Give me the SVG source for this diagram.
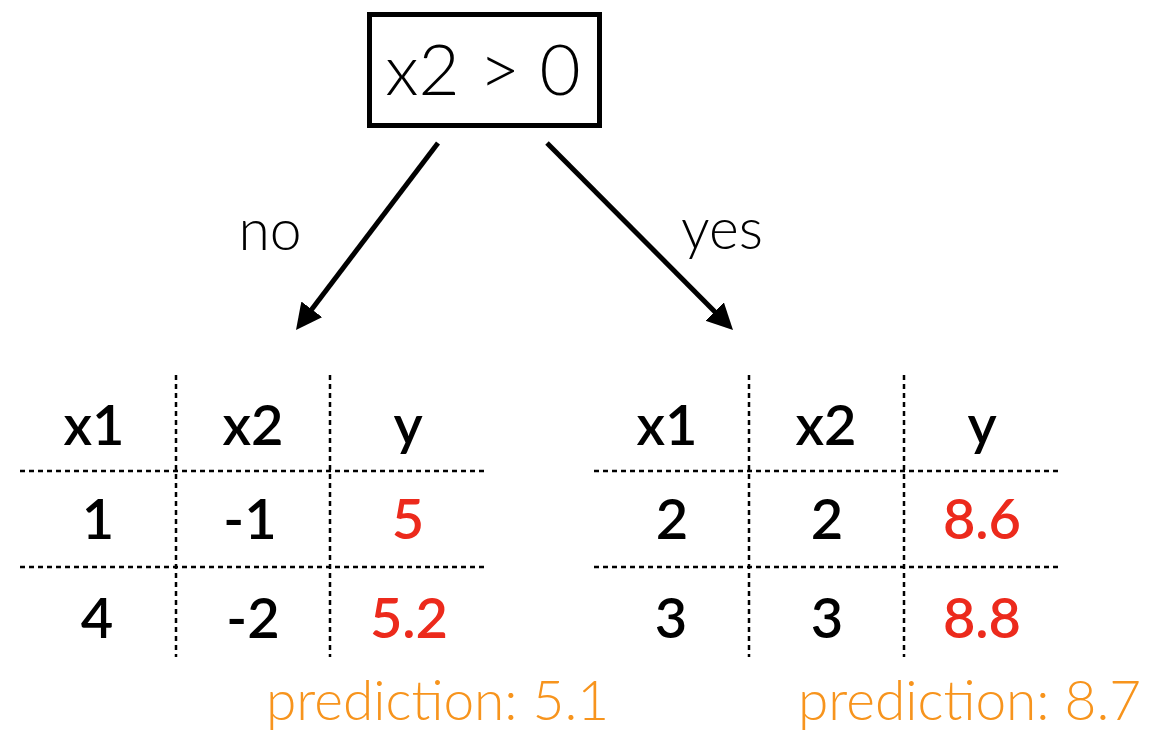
<svg xmlns="http://www.w3.org/2000/svg" width="1176" height="735" viewBox="0 0 1176 735">
<defs>
<style>
.light{font-family:Lato,"Open Sans","Liberation Sans",sans-serif;font-weight:300;fill:#000}
.cell{font-family:Lato,"Open Sans","Liberation Sans",sans-serif;font-weight:600;font-size:56px;fill:#000;text-anchor:middle}
.red{fill:#EC2A1C}
.pred{font-family:Lato,"Open Sans","Liberation Sans",sans-serif;font-weight:300;font-size:55px;fill:#F7941D}
.dash{stroke:#000;stroke-width:2.5;stroke-dasharray:5 4;fill:none}
.arrow{stroke:#000;stroke-width:5;fill:none;marker-end:url(#ah)}
</style>
<marker id="ah" markerUnits="userSpaceOnUse" markerWidth="30" markerHeight="30" refX="8" refY="13" orient="auto">
<path d="M0,0 L26,13 L0,26 z" fill="#000"/>
</marker>
</defs>
<rect width="1176" height="735" fill="#fff"/>
<g id="root">
<rect x="369.5" y="14.5" width="230" height="111" fill="#fff" stroke="#000" stroke-width="5"/>
<text class="light" x="483" y="95" font-size="71" text-anchor="middle">x2 &gt; 0</text>
</g>
<g id="connectors">
<line class="arrow" x1="438" y1="143" x2="306.9" y2="315.7"/>
<line class="arrow" x1="547" y1="143" x2="720.3" y2="317.2"/>
<text class="light" x="270" y="250" font-size="57" text-anchor="middle">no</text>
<text class="light" x="722" y="249" font-size="57" text-anchor="middle">yes</text>
</g>
<g id="left-table">
<line class="dash" x1="176" y1="375" x2="176" y2="657"/>
<line class="dash" x1="330" y1="375" x2="330" y2="657"/>
<line class="dash" x1="20" y1="471" x2="486" y2="471"/>
<line class="dash" x1="20" y1="567" x2="486" y2="567"/>
<text class="cell" x="94" y="445">x1</text>
<text class="cell" x="253" y="445">x2</text>
<text class="cell" x="408" y="445">y</text>
<text class="cell" x="98" y="539">1</text>
<text class="cell" x="250" y="539">-1</text>
<text class="cell red" x="408" y="539">5</text>
<text class="cell" x="97" y="638">4</text>
<text class="cell" x="253" y="638">-2</text>
<text class="cell red" x="409" y="638">5.2</text>
</g>
<g id="right-table">
<line class="dash" x1="749" y1="375" x2="749" y2="657"/>
<line class="dash" x1="904" y1="375" x2="904" y2="657"/>
<line class="dash" x1="594" y1="471" x2="1059" y2="471"/>
<line class="dash" x1="594" y1="567" x2="1059" y2="567"/>
<text class="cell" x="667" y="445">x1</text>
<text class="cell" x="826" y="445">x2</text>
<text class="cell" x="982" y="445">y</text>
<text class="cell" x="672" y="539">2</text>
<text class="cell" x="827" y="539">2</text>
<text class="cell red" x="982" y="539">8.6</text>
<text class="cell" x="671" y="638">3</text>
<text class="cell" x="827" y="638">3</text>
<text class="cell red" x="982" y="638">8.8</text>
</g>
<g id="left-prediction">
<text class="pred" x="266" y="720">prediction: 5.1</text>
</g>
<g id="right-prediction">
<text class="pred" x="798" y="720">prediction: 8.7</text>
</g>
</svg>
